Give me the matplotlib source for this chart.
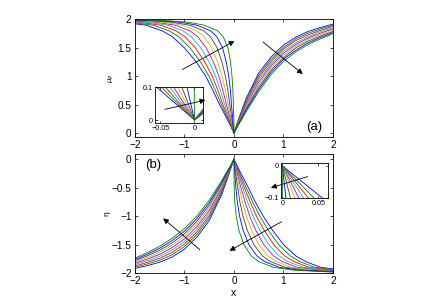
import matplotlib
matplotlib.use("Agg")
import matplotlib.pyplot as plt

plt.rcParams['font.family'] = ['Liberation Sans', 'DejaVu Sans']

# MATLAB classic colour order, 9 curves
COLORS = [(0, 0, 1), (0, 0.5, 0), (1, 0, 0), (0, 0.75, 0.75), (0.75, 0, 0.75),
          (0.75, 0.75, 0), (0.25, 0.25, 0.25), (0, 0, 1), (0, 0.5, 0)]

# ---- panel (a), x < 0 : x positions of each curve at fixed mu_p levels
TL_LEV = [0, 0.1, 0.25, 0.5, 0.75, 1.0, 1.25, 1.5, 1.7, 1.8, 1.9, 1.95, 1.98, 2.0]
TL_X = [
    [0, -0.055, -0.14, -0.29, -0.425, -0.57, -0.76, -1.0, -1.25, -1.45, -1.78, -2.24, -2.72, -4.0],
    [0, -0.0484, -0.124, -0.256, -0.375, -0.504, -0.674, -0.89, -1.121, -1.31, -1.633, -2.073, -2.549, -4.0],
    [0, -0.0424, -0.107, -0.223, -0.324, -0.438, -0.588, -0.78, -0.993, -1.17, -1.485, -1.905, -2.378, -4.0],
    [0, -0.0359, -0.0905, -0.188, -0.274, -0.371, -0.501, -0.67, -0.864, -1.03, -1.338, -1.738, -2.206, -4.0],
    [0, -0.0304, -0.074, -0.153, -0.224, -0.305, -0.415, -0.56, -0.735, -0.89, -1.19, -1.57, -2.035, -4.0],
    [0, -0.0244, -0.059, -0.119, -0.173, -0.239, -0.329, -0.45, -0.606, -0.75, -1.043, -1.403, -1.864, -4.0],
    [0, -0.0184, -0.042, -0.086, -0.123, -0.173, -0.243, -0.34, -0.478, -0.61, -0.895, -1.235, -1.693, -4.0],
    [0, -0.0108, -0.0245, -0.051, -0.072, -0.106, -0.156, -0.23, -0.349, -0.47, -0.748, -1.068, -1.521, -4.0],
    [0, -0.0004, -0.0025, -0.01, -0.022, -0.04, -0.07, -0.12, -0.22, -0.33, -0.6, -0.9, -1.35, -3.0],
]

# ---- panel (a), x > 0 : mu_p of each curve at fixed x
TR_X = [0, 0.05, 0.1, 0.25, 0.5, 0.75, 1.0, 1.25, 1.5, 1.75, 2.0]
TR_Y = [
    [0, 0.13, 0.26, 0.62, 1.06, 1.34, 1.55, 1.69, 1.79, 1.86, 1.92],
    [0, 0.124, 0.247, 0.59, 1.02, 1.30, 1.51, 1.66, 1.76, 1.835, 1.90],
    [0, 0.118, 0.234, 0.56, 0.98, 1.26, 1.48, 1.63, 1.73, 1.81, 1.88],
    [0, 0.111, 0.221, 0.53, 0.94, 1.22, 1.44, 1.59, 1.70, 1.785, 1.855],
    [0, 0.105, 0.208, 0.50, 0.895, 1.185, 1.405, 1.56, 1.675, 1.76, 1.835],
    [0, 0.099, 0.194, 0.47, 0.855, 1.15, 1.37, 1.53, 1.65, 1.735, 1.815],
    [0, 0.093, 0.181, 0.44, 0.81, 1.11, 1.33, 1.50, 1.62, 1.71, 1.79],
    [0, 0.086, 0.168, 0.41, 0.77, 1.07, 1.30, 1.46, 1.59, 1.685, 1.77],
    [0, 0.08, 0.155, 0.38, 0.73, 1.03, 1.26, 1.43, 1.56, 1.66, 1.75],
]

# ---- panel (b), x < 0 : eta of each curve at fixed x
BL_X = [0, -0.05, -0.1, -0.25, -0.5, -0.75, -1.0, -1.25, -1.5, -1.75, -2.0]
BL_Y = [
    [0, -0.13, -0.26, -0.63, -1.08, -1.37, -1.58, -1.72, -1.81, -1.87, -1.92],
    [0, -0.124, -0.247, -0.599, -1.035, -1.324, -1.535, -1.679, -1.775, -1.841, -1.898],
    [0, -0.118, -0.234, -0.568, -0.99, -1.278, -1.49, -1.638, -1.74, -1.813, -1.875],
    [0, -0.111, -0.221, -0.536, -0.945, -1.231, -1.445, -1.596, -1.705, -1.784, -1.853],
    [0, -0.105, -0.208, -0.505, -0.90, -1.185, -1.40, -1.555, -1.67, -1.755, -1.83],
    [0, -0.099, -0.194, -0.474, -0.855, -1.139, -1.355, -1.514, -1.635, -1.726, -1.808],
    [0, -0.093, -0.181, -0.443, -0.81, -1.093, -1.31, -1.473, -1.60, -1.698, -1.785],
    [0, -0.086, -0.168, -0.411, -0.765, -1.046, -1.265, -1.431, -1.565, -1.669, -1.763],
    [0, -0.08, -0.155, -0.38, -0.72, -1.0, -1.22, -1.39, -1.53, -1.64, -1.74],
]

# ---- panel (b), x > 0 : x positions of each curve at fixed eta levels
BR_LEV = [0, -0.1, -0.25, -0.5, -0.75, -1.0, -1.25, -1.5, -1.7, -1.8, -1.9, -1.95, -1.98, -2.0]
BR_X = [
    [0, 0.055, 0.14, 0.29, 0.43, 0.59, 0.78, 1.0, 1.25, 1.45, 1.75, 2.2, 2.7, 4.0],
    [0, 0.0435, 0.115, 0.247, 0.378, 0.522, 0.695, 0.9, 1.138, 1.331, 1.631, 2.075, 2.6, 4.0],
    [0, 0.0359, 0.0955, 0.21, 0.326, 0.454, 0.61, 0.8, 1.025, 1.213, 1.513, 1.95, 2.5, 4.0],
    [0, 0.0293, 0.0788, 0.176, 0.274, 0.386, 0.525, 0.7, 0.913, 1.094, 1.394, 1.825, 2.4, 4.0],
    [0, 0.0227, 0.0636, 0.141, 0.223, 0.318, 0.44, 0.6, 0.8, 0.975, 1.275, 1.7, 2.3, 4.0],
    [0, 0.0173, 0.0483, 0.107, 0.171, 0.249, 0.355, 0.5, 0.688, 0.856, 1.156, 1.575, 2.2, 4.0],
    [0, 0.0112, 0.033, 0.0755, 0.119, 0.181, 0.27, 0.4, 0.575, 0.738, 1.038, 1.45, 2.1, 4.0],
    [0, 0.005, 0.0163, 0.0383, 0.067, 0.113, 0.185, 0.3, 0.463, 0.619, 0.919, 1.325, 2.0, 4.0],
    [0, 0.0003, 0.001, 0.004, 0.015, 0.045, 0.1, 0.2, 0.35, 0.5, 0.8, 1.2, 1.9, 3.0],
]

XTICKS = [-2, -1, 0, 1, 2]
XTICKLABELS = ['\u22122', '\u22121', '0', '1', '2']
A_YTICKS = [0, 0.5, 1, 1.5, 2]
A_YTICKLABELS = ['0', '0.5', '1', '1.5', '2']
B_YTICKS = [-2, -1.5, -1, -0.5, 0]
B_YTICKLABELS = ['\u22122', '\u22121.5', '\u22121', '\u22120.5', '0']

LW = 0.6
TICKFS = 7.2


def style(ax, fs=TICKFS, length=2.5):
    ax.tick_params(direction='in', top=True, right=True, labelsize=fs,
                   length=length, width=0.5, pad=2.5)
    for s in ax.spines.values():
        s.set_linewidth(0.6)


def draw_a(ax):
    for k in range(9):
        ax.plot(TL_X[k], TL_LEV, color=COLORS[k], lw=LW)
        ax.plot(TR_X, TR_Y[k], color=COLORS[k], lw=LW)


def draw_b(ax):
    for k in range(9):
        ax.plot(BL_X, BL_Y[k], color=COLORS[k], lw=LW)
        ax.plot(BR_X[k], BR_LEV, color=COLORS[k], lw=LW)


def arrow(ax, tail, head):
    ax.annotate('', xy=head, xytext=tail, annotation_clip=False,
                arrowprops=dict(arrowstyle='-|>', color='k', lw=0.6,
                                mutation_scale=8, shrinkA=0, shrinkB=0))


fig = plt.figure(figsize=(4.36, 3.08), dpi=100)

ax1 = fig.add_axes([0.3096, 0.5552, 0.4541, 0.3815])
draw_a(ax1)
ax1.set_xlim(-2, 2)
ax1.set_ylim(-0.07, 2.0)
ax1.set_xticks(XTICKS)
ax1.set_xticklabels(XTICKLABELS)
ax1.set_yticks(A_YTICKS)
ax1.set_yticklabels(A_YTICKLABELS)
style(ax1)
ax1.set_ylabel(r'$\mu_P$', fontsize=5, labelpad=1)
ax1.text(1.63, 0.11, '(a)', fontsize=9.5, ha='center', va='center')
arrow(ax1, (-1.04, 1.12), (0.01, 1.62))
arrow(ax1, (0.59, 1.60), (1.39, 1.04))

ax2 = fig.add_axes([0.3096, 0.1136, 0.4541, 0.3864])
draw_b(ax2)
ax2.set_xlim(-2, 2)
ax2.set_ylim(-2.0, 0.09)
ax2.set_xticks(XTICKS)
ax2.set_xticklabels(XTICKLABELS)
ax2.set_yticks(B_YTICKS)
ax2.set_yticklabels(B_YTICKLABELS)
style(ax2)
ax2.set_xlabel('x', fontsize=7.5, labelpad=1)
ax2.set_ylabel('\u03b7', fontsize=6, labelpad=1)
ax2.text(-1.63, -0.10, '(b)', fontsize=9.5, ha='center', va='center')
arrow(ax2, (-0.69, -1.59), (-1.43, -1.04))
arrow(ax2, (0.96, -1.10), (-0.09, -1.61))

# inset of panel (a)
in1 = fig.add_axes([0.3555, 0.5997, 0.1108, 0.1188])
draw_a(in1)
in1.set_xlim(-0.058, 0.013)
in1.set_ylim(-0.01, 0.102)
in1.set_xticks([-0.05, 0])
in1.set_xticklabels(['\u22120.05', '0'])
in1.set_yticks([0, 0.1])
in1.set_yticklabels(['0', '0.1'])
style(in1, fs=5.2, length=1.8)
in1.tick_params(pad=1.5)
arrow(in1, (-0.0436, 0.0327), (0.016, 0.061))

# inset of panel (b)
in2 = fig.add_axes([0.6438, 0.3562, 0.1092, 0.1136])
draw_b(in2)
in2.set_xlim(-0.0022, 0.0639)
in2.set_ylim(-0.102, 0.0075)
in2.set_xticks([0, 0.05])
in2.set_xticklabels(['0', '0.05'])
in2.set_yticks([-0.1, 0])
in2.set_yticklabels(['\u22120.1', '0'])
style(in2, fs=5.2, length=1.8)
in2.tick_params(pad=1.5)
arrow(in2, (0.0353, -0.034), (-0.0157, -0.0688))

fig.savefig('out.png', dpi=100)
